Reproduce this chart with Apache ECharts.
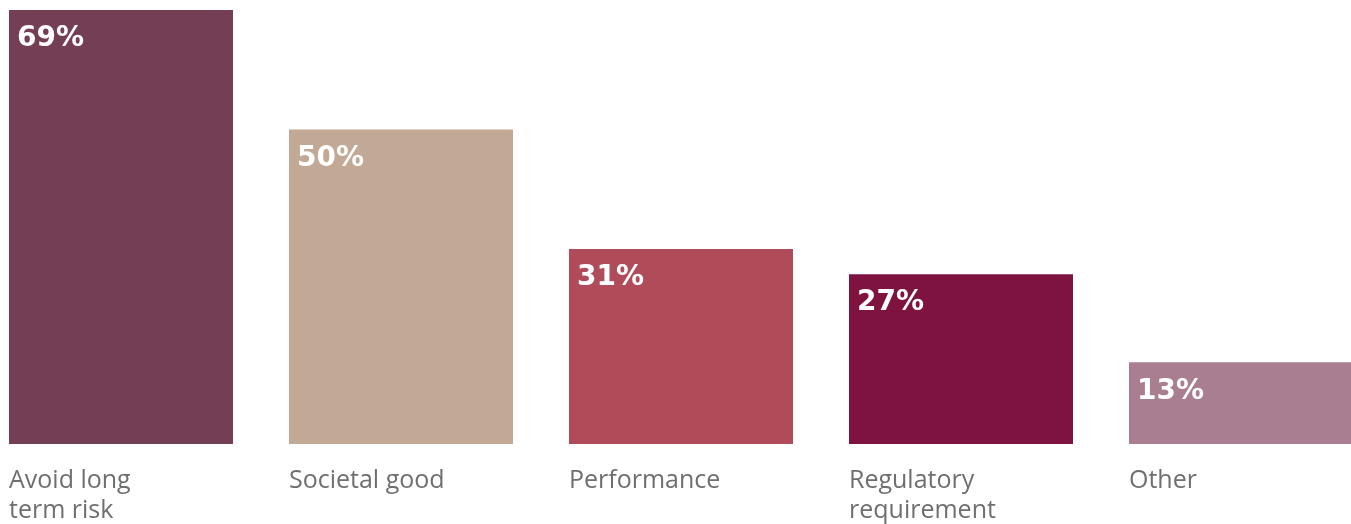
<!DOCTYPE html>
<html><head><meta charset="utf-8">
<script src="https://cdn.jsdelivr.net/npm/echarts@6/dist/echarts.min.js"></script>
<style>html,body{margin:0;padding:0;background:#fff}#c{width:1351px;height:524px}</style>
</head><body><div id="c"></div>
<script>
const categories = ['Avoid long\nterm risk', 'Societal good', 'Performance', 'Regulatory\nrequirement', 'Other'];
const values = [69, 50, 31, 27, 13];
const colors = ['#743E55', '#C1A995', '#B04B5A', '#7E1340', '#A87E90'];

const chart = echarts.init(document.getElementById('c'));
chart.setOption({
  animation: false,
  grid: { left: -19, width: 1400, top: 10, bottom: 80, containLabel: false, outerBoundsMode: 'none' },
  xAxis: {
    type: 'category', data: categories,
    axisLine: { show: false }, axisTick: { show: false },
    axisLabel: {
      interval: 0, margin: 22, hideOverlap: false,
      formatter: v => v.split('\n').map(s => '{a|' + s + '}').join('\n'),
      rich: { a: { width: 224, align: 'left', fontFamily: 'Open Sans', fontSize: 25, lineHeight: 30, color: '#6d6f71' } }
    }
  },
  yAxis: { type: 'value', min: 0, max: 69, show: false, splitLine: { show: false } },
  series: [{
    type: 'bar', barWidth: 224,
    data: values.map((v, i) => ({ value: v, itemStyle: { color: colors[i] } })),
    label: {
      show: true, position: [8, 15], formatter: '{c}%',
      color: '#fff', fontFamily: 'DejaVu Sans', fontWeight: 'bold', fontSize: 28
    }
  }]
});
</script></body></html>
